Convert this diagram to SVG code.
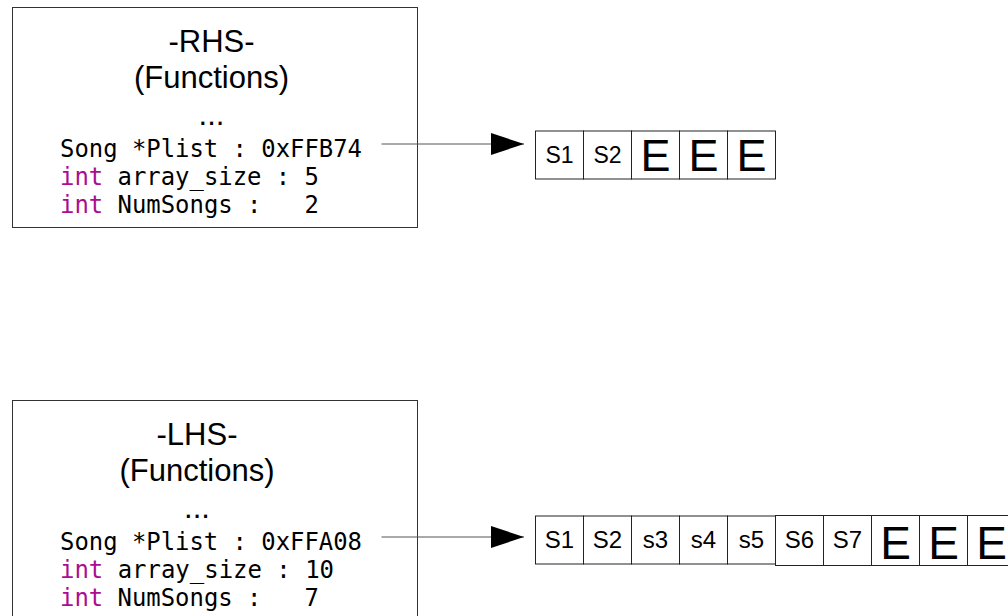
<svg xmlns="http://www.w3.org/2000/svg" width="1008" height="616" viewBox="0 0 1008 616">
<style>
.box{fill:#fff;stroke:#333;stroke-width:1}
.cell{fill:#fff;stroke:#222;stroke-width:1}
.hd{font-family:"Liberation Sans",Arial,sans-serif;font-size:31px;fill:#000;text-anchor:middle}
.mono{font-family:"DejaVu Sans Mono","Liberation Mono",monospace;font-size:24px;fill:#000}
.kw{fill:#aa0d91}
.cs{font-family:"Liberation Sans",Arial,sans-serif;font-size:23px;fill:#000;text-anchor:middle}
.cb{font-family:"Liberation Sans",Arial,sans-serif;font-size:24px;fill:#000;text-anchor:middle}
.eT{font-family:"Liberation Sans",Arial,sans-serif;font-size:45px;fill:#000;text-anchor:middle}
.eB{font-family:"Liberation Sans",Arial,sans-serif;font-size:46px;fill:#000;text-anchor:middle}
.conn{stroke:#555;stroke-width:1;fill:none}
</style>
<defs>
<marker id="arr" markerWidth="34" markerHeight="22" refX="33" refY="11" orient="auto" markerUnits="userSpaceOnUse">
<path d="M0,0 L33,11 L0,22 Z" fill="#000"/>
</marker>
</defs>
<rect width="1008" height="616" fill="#fff"/>

<g id="rhs">
<rect class="box" x="12.5" y="7.5" width="405" height="220"/>
<text class="hd" x="211.5" y="52">-RHS-</text>
<text class="hd" x="211.5" y="88">(Functions)</text>
<text class="hd" x="211.5" y="125">...</text>
<text class="mono" x="60" y="157" textLength="302" lengthAdjust="spacingAndGlyphs">Song *Plist : 0xFFB74</text>
<text class="mono" x="60" y="185" textLength="259" lengthAdjust="spacingAndGlyphs"><tspan class="kw">int</tspan> array_size : 5</text>
<text class="mono" x="60" y="213" textLength="259" lengthAdjust="spacingAndGlyphs" xml:space="preserve"><tspan class="kw">int</tspan> NumSongs :   2</text>
</g>

<g id="lhs">
<rect class="box" x="12.5" y="400.5" width="405" height="230"/>
<text class="hd" x="197" y="445">-LHS-</text>
<text class="hd" x="197" y="481">(Functions)</text>
<text class="hd" x="197" y="518">...</text>
<text class="mono" x="60" y="550" textLength="302" lengthAdjust="spacingAndGlyphs">Song *Plist : 0xFFA08</text>
<text class="mono" x="60" y="578" textLength="274" lengthAdjust="spacingAndGlyphs"><tspan class="kw">int</tspan> array_size : 10</text>
<text class="mono" x="60" y="606" textLength="259" lengthAdjust="spacingAndGlyphs" xml:space="preserve"><tspan class="kw">int</tspan> NumSongs :   7</text>
</g>

<g id="array-rhs">
<rect class="cell" x="535.5" y="131" width="48" height="48"/>
<rect class="cell" x="583.5" y="131" width="48" height="48"/>
<rect class="cell" x="631.5" y="131" width="48" height="48"/>
<rect class="cell" x="679.5" y="131" width="48" height="48"/>
<rect class="cell" x="727.5" y="131" width="48" height="48"/>
<text class="cs" x="559.5" y="163">S1</text>
<text class="cs" x="607.5" y="163">S2</text>
<text class="eT" x="655.5" y="171">E</text>
<text class="eT" x="703.5" y="171">E</text>
<text class="eT" x="751.5" y="171">E</text>
</g>

<g id="array-lhs">
<rect class="cell" x="535.5" y="516" width="48" height="48"/>
<rect class="cell" x="583.5" y="516" width="48" height="48"/>
<rect class="cell" x="631.5" y="516" width="48" height="48"/>
<rect class="cell" x="679.5" y="516" width="48" height="48"/>
<rect class="cell" x="727.5" y="516" width="48" height="48"/>
<rect class="cell" x="775.5" y="515.5" width="48" height="50"/>
<rect class="cell" x="823.5" y="515.5" width="48" height="50"/>
<rect class="cell" x="871.5" y="515.5" width="48" height="50"/>
<rect class="cell" x="919.5" y="515.5" width="48" height="50"/>
<rect class="cell" x="967.5" y="515.5" width="48" height="50"/>
<text class="cb" x="559.5" y="548">S1</text>
<text class="cb" x="607.5" y="548">S2</text>
<text class="cb" x="655.5" y="548">s3</text>
<text class="cb" x="703.5" y="548">s4</text>
<text class="cb" x="751.5" y="548">s5</text>
<text class="cb" x="799.5" y="548">S6</text>
<text class="cb" x="847.5" y="548">S7</text>
<text class="eB" x="895.5" y="559">E</text>
<text class="eB" x="943.5" y="559">E</text>
<text class="eB" x="991.5" y="559">E</text>
</g>

<g id="connectors">
<line class="conn" x1="381.5" y1="144" x2="524" y2="144" marker-end="url(#arr)"/>
<line class="conn" x1="381.5" y1="537" x2="524" y2="537" marker-end="url(#arr)"/>
</g>
</svg>
